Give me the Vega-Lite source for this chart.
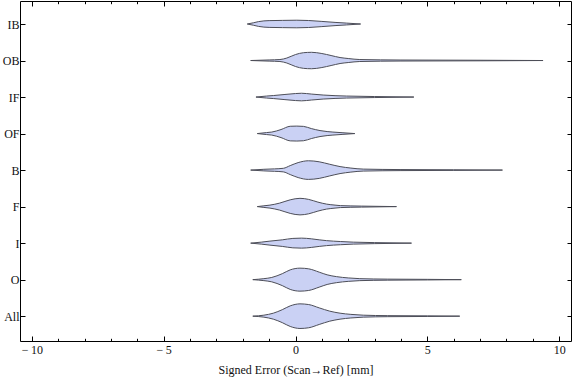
{
  "$schema": "https://vega.github.io/schema/vega-lite/v6.json",
  "width": 551,
  "height": 340,
  "autosize": {"type": "none"},
  "padding": {"left": 20, "top": 1, "right": 5, "bottom": 40},
  "config": {
    "view": {"stroke": "#000000", "strokeWidth": 1},
    "axis": {
      "labelFont": "Liberation Serif",
      "labelFontSize": 12,
      "labelColor": "#111111",
      "titleFont": "Liberation Serif",
      "titleFontSize": 12,
      "titleFontWeight": "normal",
      "titleColor": "#111111",
      "tickColor": "#000000",
      "domain": false,
      "grid": false
    }
  },
  "datasets": {
    "cats": [
      {"c": "All", "k": 1}, {"c": "O", "k": 2}, {"c": "I", "k": 3}, {"c": "F", "k": 4}, {"c": "B", "k": 5},
      {"c": "OF", "k": 6}, {"c": "IF", "k": 7}, {"c": "OB", "k": 8}, {"c": "IB", "k": 9}
    ],
    "violins": [
      {"c":"All","x":-1.62,"w":0},{"c":"All","x":-1.2,"w":0.027},{"c":"All","x":-0.84,"w":0.082},{"c":"All","x":-0.5,"w":0.178},{"c":"All","x":-0.2,"w":0.282},{"c":"All","x":0.17,"w":0.337},{"c":"All","x":0.5,"w":0.318},{"c":"All","x":0.9,"w":0.227},{"c":"All","x":1.3,"w":0.137},{"c":"All","x":1.69,"w":0.082},{"c":"All","x":2.1,"w":0.049},{"c":"All","x":2.57,"w":0.027},{"c":"All","x":3.5,"w":0.014},{"c":"All","x":5.0,"w":0.008},{"c":"All","x":6.23,"w":0},
      {"c":"O","x":-1.62,"w":0},{"c":"O","x":-1.2,"w":0.027},{"c":"O","x":-0.9,"w":0.06},{"c":"O","x":-0.5,"w":0.164},{"c":"O","x":-0.2,"w":0.268},{"c":"O","x":0.17,"w":0.315},{"c":"O","x":0.5,"w":0.296},{"c":"O","x":0.9,"w":0.205},{"c":"O","x":1.2,"w":0.132},{"c":"O","x":1.56,"w":0.082},{"c":"O","x":2.0,"w":0.047},{"c":"O","x":2.44,"w":0.027},{"c":"O","x":3.5,"w":0.014},{"c":"O","x":5.0,"w":0.008},{"c":"O","x":6.29,"w":0},
      {"c":"I","x":-1.7,"w":0},{"c":"I","x":-1.3,"w":0.027},{"c":"I","x":-0.97,"w":0.055},{"c":"I","x":-0.5,"w":0.09},{"c":"I","x":-0.1,"w":0.129},{"c":"I","x":0.23,"w":0.137},{"c":"I","x":0.6,"w":0.118},{"c":"I","x":0.9,"w":0.09},{"c":"I","x":1.18,"w":0.068},{"c":"I","x":1.7,"w":0.044},{"c":"I","x":2.19,"w":0.027},{"c":"I","x":3.0,"w":0.014},{"c":"I","x":4.4,"w":0},
      {"c":"F","x":-1.45,"w":0},{"c":"F","x":-1.2,"w":0.022},{"c":"F","x":-0.97,"w":0.041},{"c":"F","x":-0.6,"w":0.096},{"c":"F","x":-0.2,"w":0.186},{"c":"F","x":0.17,"w":0.227},{"c":"F","x":0.5,"w":0.197},{"c":"F","x":0.85,"w":0.123},{"c":"F","x":1.18,"w":0.068},{"c":"F","x":1.5,"w":0.041},{"c":"F","x":1.7,"w":0.027},{"c":"F","x":2.5,"w":0.014},{"c":"F","x":3.83,"w":0},
      {"c":"B","x":-1.7,"w":0},{"c":"B","x":-1.2,"w":0.022},{"c":"B","x":-0.8,"w":0.033},{"c":"B","x":-0.46,"w":0.049},{"c":"B","x":-0.2,"w":0.123},{"c":"B","x":0.1,"w":0.205},{"c":"B","x":0.49,"w":0.255},{"c":"B","x":0.9,"w":0.227},{"c":"B","x":1.3,"w":0.159},{"c":"B","x":1.69,"w":0.096},{"c":"B","x":2.1,"w":0.055},{"c":"B","x":2.57,"w":0.027},{"c":"B","x":4.0,"w":0.014},{"c":"B","x":6.0,"w":0.008},{"c":"B","x":7.85,"w":0},
      {"c":"OF","x":-1.45,"w":0},{"c":"OF","x":-1.1,"w":0.027},{"c":"OF","x":-0.9,"w":0.041},{"c":"OF","x":-0.55,"w":0.11},{"c":"OF","x":-0.2,"w":0.2},{"c":"OF","x":0.05,"w":0.205},{"c":"OF","x":0.3,"w":0.197},{"c":"OF","x":0.6,"w":0.137},{"c":"OF","x":0.93,"w":0.082},{"c":"OF","x":1.2,"w":0.055},{"c":"OF","x":1.42,"w":0.041},{"c":"OF","x":1.8,"w":0.022},{"c":"OF","x":2.25,"w":0},
      {"c":"IF","x":-1.5,"w":0},{"c":"IF","x":-1.1,"w":0.027},{"c":"IF","x":-0.84,"w":0.041},{"c":"IF","x":-0.4,"w":0.071},{"c":"IF","x":0.0,"w":0.096},{"c":"IF","x":0.23,"w":0.104},{"c":"IF","x":0.6,"w":0.082},{"c":"IF","x":1.05,"w":0.055},{"c":"IF","x":1.5,"w":0.038},{"c":"IF","x":1.94,"w":0.027},{"c":"IF","x":3.0,"w":0.014},{"c":"IF","x":4.49,"w":0},
      {"c":"OB","x":-1.7,"w":0},{"c":"OB","x":-1.0,"w":0.016},{"c":"OB","x":-0.59,"w":0.027},{"c":"OB","x":-0.33,"w":0.068},{"c":"OB","x":0.0,"w":0.164},{"c":"OB","x":0.3,"w":0.214},{"c":"OB","x":0.61,"w":0.225},{"c":"OB","x":1.0,"w":0.192},{"c":"OB","x":1.35,"w":0.137},{"c":"OB","x":1.69,"w":0.082},{"c":"OB","x":2.0,"w":0.055},{"c":"OB","x":2.44,"w":0.027},{"c":"OB","x":4.0,"w":0.014},{"c":"OB","x":7.0,"w":0.008},{"c":"OB","x":9.39,"w":0},
      {"c":"IB","x":-1.83,"w":0},{"c":"IB","x":-1.6,"w":0.033},{"c":"IB","x":-1.4,"w":0.066},{"c":"IB","x":-1.0,"w":0.093},{"c":"IB","x":-0.5,"w":0.099},{"c":"IB","x":0.05,"w":0.104},{"c":"IB","x":0.5,"w":0.096},{"c":"IB","x":1.0,"w":0.071},{"c":"IB","x":1.5,"w":0.044},{"c":"IB","x":1.94,"w":0.025},{"c":"IB","x":2.47,"w":0}
    ]
  },
  "resolve": {"axis": {"x": "independent", "y": "independent"}},
  "layer": [
    {
      "data": {"name": "violins"},
      "transform": [
        {"lookup": "c", "from": {"data": {"name": "cats"}, "key": "c", "fields": ["k"]}},
        {"calculate": "datum.k + datum.w", "as": "hi"},
        {"calculate": "datum.k - datum.w", "as": "lo"}
      ],
      "mark": {"type": "area", "orient": "vertical", "interpolate": "monotone", "fill": "#cad1f4", "fillOpacity": 1, "stroke": "#4d4e58", "strokeWidth": 1},
      "encoding": {
        "x": {
          "field": "x", "type": "quantitative",
          "scale": {"domain": [-10.45, 10.45], "nice": false, "zero": false},
          "axis": {
            "orient": "bottom",
            "values": [-10, -5, 0, 5, 10],
            "tickSize": -5,
            "labelPadding": 8,
            "labelExpr": "datum.value < 0 ? '\u2212\u2009' + abs(datum.value) : '' + datum.value",
            "title": "Signed Error (Scan\u2192Ref) [mm]",
            "titlePadding": 9
          }
        },
        "y": {
          "field": "hi", "type": "quantitative",
          "scale": {"domain": [0.32, 9.63], "nice": false, "zero": false},
          "axis": {
            "orient": "left",
            "values": [1, 2, 3, 4, 5, 6, 7, 8, 9],
            "tickSize": -5,
            "labelPadding": 6,
            "labelExpr": "['', 'All', 'O', 'I', 'F', 'B', 'OF', 'IF', 'OB', 'IB'][datum.value]",
            "title": null
          }
        },
        "y2": {"field": "lo"},
        "detail": {"field": "c"}
      }
    },
    {
      "data": {"values": [{}]},
      "mark": {"type": "point", "opacity": 0},
      "encoding": {
        "x": {"datum": 0, "type": "quantitative", "axis": {"orient": "bottom", "values": [-10,-9,-8,-7,-6,-5,-4,-3,-2,-1,0,1,2,3,4,5,6,7,8,9,10], "tickSize": -2.7, "labels": false, "title": null}},
        "y": {"datum": 1, "type": "quantitative", "axis": {"orient": "right", "values": [1, 2, 3, 4, 5, 6, 7, 8, 9], "tickSize": -4, "labels": false, "title": null}}
      }
    },
    {
      "data": {"values": [{}]},
      "mark": {"type": "point", "opacity": 0},
      "encoding": {
        "x": {"datum": 0, "type": "quantitative", "axis": {"orient": "top", "values": [-10, -5, 0, 5, 10], "tickSize": -5, "labels": false, "title": null}}
      }
    },
    {
      "data": {"values": [{}]},
      "mark": {"type": "point", "opacity": 0},
      "encoding": {
        "x": {"datum": 0, "type": "quantitative", "axis": {"orient": "top", "values": [-10,-9,-8,-7,-6,-5,-4,-3,-2,-1,0,1,2,3,4,5,6,7,8,9,10], "tickSize": -2.7, "labels": false, "title": null}}
      }
    }
  ]
}
